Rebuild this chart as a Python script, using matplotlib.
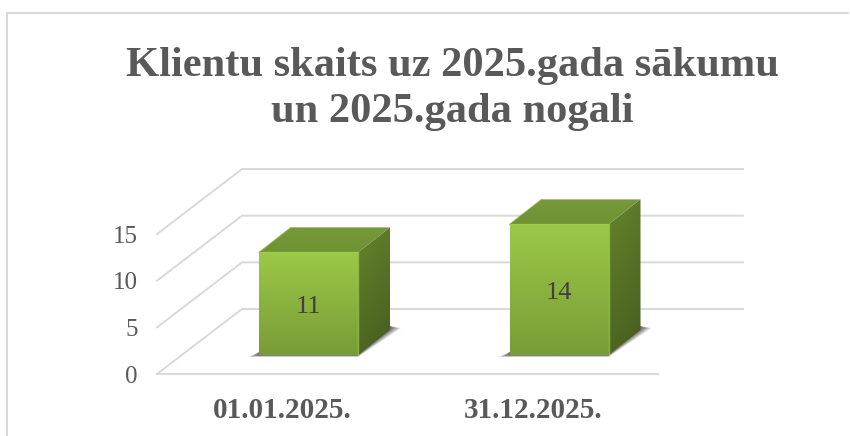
import matplotlib
matplotlib.use("Agg")
import matplotlib.pyplot as plt
import numpy as np
from matplotlib.colors import to_rgb
from matplotlib.lines import Line2D
from matplotlib.patches import Polygon

dates = ["01.01.2025.", "31.12.2025."]
clients = [11, 14]
y_ticks = [0, 5, 10, 15]
title = "Klientu skaits uz 2025.gada sākumu\nun 2025.gada nogali"

W, H = 850, 436
PX_X = 250.5  # pixels per category
PX_Y = 9.33   # pixels per client
DEPTH_X = 85 / PX_X
DEPTH_Y = 65 / PX_Y
GRID = "#d9d9d9"
TEXT = "#595959"

plt.rcParams["font.family"] = ["Liberation Serif", "DejaVu Serif"]

fig = plt.figure(figsize=(W / 100, H / 100), dpi=100)
ax = fig.add_axes([0, 0, 1, 1])
# data x=0 sits at pixel 308.5, data y=0 at pixel 374
ax.set_xlim(-308.5 / PX_X, (W - 308.5) / PX_X)
ax.set_ylim(-(H - 374) / PX_Y, 374 / PX_Y)
ax.axis("off")


def proj(x, v, d):
    # oblique projection, d is depth from 0 (front) to 1 (back wall)
    return x + d * DEPTH_X, v + d * DEPTH_Y


def gradient(poly, c1, c2, diagonal=0.0):
    xs, ys = zip(*poly)
    ny = np.linspace(0, 1, 120)
    nx = np.linspace(0, 1, 60)
    tx, ty = np.meshgrid(nx, ny)
    t = np.clip(ty * (1 - diagonal) + tx * diagonal, 0, 1)[..., None]
    img = np.array(to_rgb(c1)) * (1 - t) + np.array(to_rgb(c2)) * t
    im = ax.imshow(img, extent=(min(xs), max(xs), min(ys), max(ys)), origin="upper",
                   aspect="auto", zorder=4, interpolation="bilinear")
    p = Polygon(poly, closed=True, transform=ax.transData, fc="none", ec="none")
    ax.add_patch(p)
    im.set_clip_path(p)


def box(x, value, half=49.5 / PX_X):
    base = 19 / PX_Y
    fl, fr = x - half, x + half
    dx = 32 / PX_X
    dy = 25 / PX_Y
    front = [(fl, base), (fr, base), (fr, base + value), (fl, base + value)]
    side = [(fr, base), (fr + dx, base + dy), (fr + dx, base + dy + value), (fr, base + value)]
    top = [(fl, base + value), (fr, base + value), (fr + dx, base + dy + value), (fl + dx, base + dy + value)]

    # soft shadow on the floor, a few stacked layers
    for grow, alpha in [(1.0, 0.18), (0.75, 0.25), (0.5, 0.3), (0.25, 0.35)]:
        ex = 11 * grow / PX_X
        low = 2 * grow / PX_Y
        sh = [(fl - ex, base - low), (fr, base - low), (fr + dx + ex, base + dy + 2 / PX_Y),
              (fr + dx, base + dy + 4 / PX_Y), (fr, base + 3 / PX_Y), (fl, base + 3 / PX_Y)]
        ax.add_patch(Polygon(sh, closed=True, fc="#404040", ec="none", alpha=alpha, zorder=3))

    gradient(front, "#9cc948", "#789c36")
    gradient(side, "#64842d", "#465c1e", diagonal=0.25)
    gradient(top, "#76993a", "#6f9232")
    # bevel highlight
    ax.plot([fl, fr, fr], [base + value, base + value, base], color="#a4cf52", lw=1, alpha=0.7, zorder=5)
    ax.plot([fl, fl + dx], [base + value, base + dy + value], color="#86ad3e", lw=0.8, alpha=0.7, zorder=5)
    return x, base + value / 2


# floor + side wall + back wall gridlines
x_left = -151.5 / PX_X
x_right = 349.5 / PX_X
for v in y_ticks:
    x0, y0 = proj(x_left, v, 0)
    x1, y1 = proj(x_left, v, 1)
    x2, y2 = proj(x_right, v, 1)
    ax.plot([x0, x1, x2], [y0, y1, y2], color=GRID, lw=1.4, zorder=1, solid_joinstyle="miter")
    ax.text(x_left - 19 / PX_X, v - 2.5 / PX_Y, str(v), ha="right", va="center", fontsize=18, color=TEXT)
ax.plot([x_left, x_right], [0, 0], color=GRID, lw=1.4, zorder=1)

for i, (date, n) in enumerate(zip(dates, clients)):
    cx, cy = box(i, n)
    ax.text(cx, cy - 3 / PX_Y, str(n), ha="center", va="center", fontsize=19, color="#404040", zorder=6)
    ax.text(i - 26 / PX_X, -36 / PX_Y, date, ha="center", va="center",
            fontsize=21, fontweight="bold", color=TEXT)

fig.text(452 / W, 1 - 89 / H, title, ha="center", va="center", fontsize=30.6, fontweight="bold",
         color=TEXT, linespacing=1.27)

# chart frame, only top and left edges are in the crop
fig.add_artist(Line2D([6.5 / W, 6.5 / W, 848 / W], [0, 1 - 13 / H, 1 - 13 / H], color=GRID, lw=1.4))

fig.savefig("out.png", dpi=100)
